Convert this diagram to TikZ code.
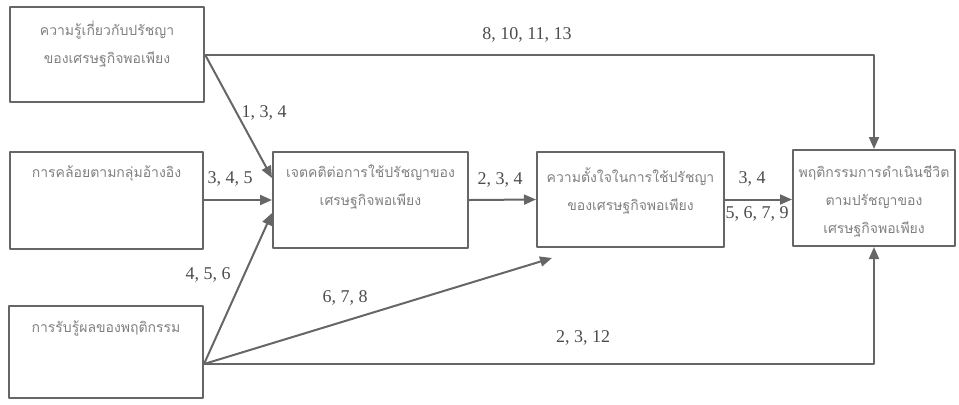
\documentclass[tikz,border=0pt]{standalone}
\usepackage{fontspec}
\setmainfont{Liberation Serif}
\newfontfamily\thaifont[Script=Thai]{Loma}
\usetikzlibrary{arrows.meta,positioning}
\begin{document}
\begin{tikzpicture}[x=0.5pt,y=-0.5pt,>={Triangle[length=6pt,width=5pt]},line join=round,
	box/.style={draw=black!60,line width=1pt,minimum width=#1,inner sep=0pt},
	boxtext/.style={font=\thaifont\fontsize{7}{14}\selectfont,text=black!50,align=center,inner sep=0pt},
	num/.style={font=\fontsize{9}{10}\selectfont,text=black!70,inner sep=0pt},
	conn/.style={draw=black!60,line width=1pt}]
	\useasboundingbox (0,0) rectangle (959,404);
	% boxes
	\node[box=97pt,minimum height=47.5pt] (know) at (107,54.5) {};
	\node[box=96.5pt,minimum height=48.5pt] (norm) at (106.5,200) {};
	\node[box=97pt,minimum height=46pt] (perc) at (106,352) {};
	\node[box=97.5pt,minimum height=48pt] (att) at (370.5,200) {};
	\node[box=93.5pt,minimum height=47.5pt] (intent) at (630.5,199.5) {};
	\node[box=81pt,minimum height=48pt] (behav) at (874,198) {};
	% texts
	\node[boxtext,below=7.5pt of know.north] (knowtxt) {ความรู้เกี่ยวกับปรัชญา\\ของเศรษฐกิจพอเพียง};
	\node[boxtext,below=7.5pt of norm.north] (normtxt) {การคล้อยตามกลุ่มอ้างอิง};
	\node[boxtext,below=7.5pt of perc.north] (perctxt) {การรับรู้ผลของพฤติกรรม};
	\node[boxtext,below=7pt of att.north] (atttxt) {เจตคติต่อการใช้ปรัชญาของ\\เศรษฐกิจพอเพียง};
	\node[boxtext,below=8pt of intent.north] (intenttxt) {ความตั้งใจในการใช้ปรัชญา\\ของเศรษฐกิจพอเพียง};
	\node[boxtext,below=8pt of behav.north] (behavtxt) {พฤติกรรมการดำเนินชีวิต\\ตามปรัชญาของ\\เศรษฐกิจพอเพียง};
	% connectors
	\path ([yshift=-6pt]perc.east) coordinate (pout)
	(552,258) coordinate (c5);
	\draw[conn,->] (know.east) -| (behav.north);
	\draw[conn,->] (know.east) -- ([yshift=11pt]att.west);
	\draw[conn,->] (norm.east) -- (att.west);
	\draw[conn,->] (pout) -- ([yshift=-6.5pt]att.west);
	\draw[conn,->] (pout) -- (c5);
	\draw[conn,->] (pout) -| (behav.south);
	\draw[conn,->] (att.east) -- (intent.west);
	\draw[conn,->] (intent.east) -- (intent.east -| behav.west);
	% labels
	\foreach \n/\p/\t in {l8/{(527,35)}/{8, 10, 11, 13},l134/{(264,113)}/{1, 3, 4},l345/{(230,179)}/{3, 4, 5},
		l456/{(208,275)}/{4, 5, 6},l678/{(345,298)}/{6, 7, 8},l2312/{(583,338)}/{2, 3, 12},
		l234/{(500,180)}/{2, 3, 4},l34/{(752,179)}/{3, 4},l5679/{(757,214)}/{5, 6, 7, 9}}
	\node[num] (\n) at \p {\t};
\end{tikzpicture}
\end{document}
